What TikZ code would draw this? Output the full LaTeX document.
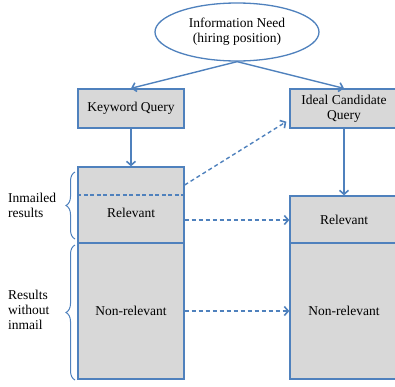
\documentclass[tikz,border=0pt]{standalone}
\usepackage{fontspec}
\setmainfont{Liberation Serif}
\usetikzlibrary{shapes.geometric, arrows.meta, decorations.pathreplacing}

\definecolor{lineblue}{RGB}{79,129,189}
\definecolor{boxgray}{RGB}{216,216,216}

\tikzset{
    box/.style={draw=lineblue, fill=boxgray, line width=1.3pt, inner sep=0pt, align=center},
    flow/.style={draw=lineblue, line width=1.4pt, -{Straight Barb[length=4pt, width=9pt, line width=1.6pt]}},
    flowdash/.style={flow, dash pattern=on 4pt off 3pt},
    bracket/.style={draw=lineblue, line width=1pt, decorate, decoration={brace, amplitude=9pt}},
}

\begin{document}
\begin{tikzpicture}[x=1pt, y=-1pt, font=\fontsize{13.5}{15}\selectfont]

        \useasboundingbox (0,0) rectangle (395,386);
        \clip (0,0) rectangle (395,386);

        \node[ellipse, draw=lineblue, fill=white, line width=1.3pt,
            minimum width=164pt, minimum height=58pt, align=center]
            (need) at (237,32) {Information Need\\(hiring position)};

        \node[box, minimum width=106pt, minimum height=39pt]
            (kw) at (131,108.5) {Keyword Query};
        \node[box, minimum width=108pt, minimum height=39pt]
            (ideal) at (344,108.5) {Ideal Candidate\\Query};

        % result lists
        \node[box, minimum width=106pt, minimum height=76pt] (lrel) at (131,205) {};
        \node[box, minimum width=106pt, minimum height=136pt] (lnon) at (131,311) {Non-relevant};
        \node[box, minimum width=108pt, minimum height=47pt] (rrel) at (344,219.5) {Relevant};
        \node[box, minimum width=108pt, minimum height=136pt] (rnon) at (344,311) {Non-relevant};

        \node (lreltext) at (131,213) {Relevant};

        \draw[lineblue, line width=1.4pt, dash pattern=on 4pt off 2.5pt]
            ([yshift=-28.5pt]lrel.north west) -- ([yshift=-28.5pt]lrel.north east);

        \draw[flow] (need.south) -- (kw.north);
        \draw[flow] (need.south) -- (ideal.north);
        \draw[flow] (kw.south) -- (lrel.north);
        \draw[flow] (ideal.south) -- (rrel.north);

        \draw[flowdash] ([yshift=20pt]lrel.east) -- ([shift={(-3pt,7pt)}]ideal.south west);
        \draw[flowdash] ([yshift=-0.5pt]rrel.west -| lrel.east) -- ([yshift=-0.5pt]rrel.west);
        \draw[flowdash] (lnon.east) -- (rnon.west);

        % braces and labels
        \coordinate (b1bot) at (75,239);
        \coordinate (b1top) at (75,172);
        \coordinate (b2bot) at (75,380);
        \coordinate (b2top) at (75,245);
        \draw[bracket] (b1bot) -- (b1top);
        \draw[bracket] (b2bot) -- (b2top);

        \node[anchor=west, align=left, inner sep=0pt] (inmailed) at (8,205) {Inmailed\\results};
        \node[anchor=west, align=left, inner sep=0pt] (noinmail) at (8,310) {Results\\without\\inmail};

\end{tikzpicture}
\end{document}
